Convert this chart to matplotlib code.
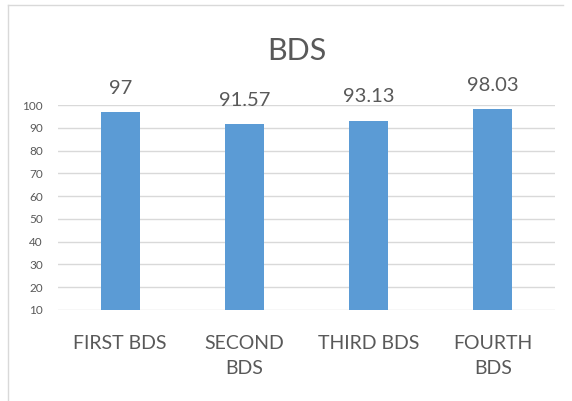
import matplotlib.pyplot as plt
from matplotlib.lines import Line2D
import numpy as np

# ===== Data =====
categories = ["FIRST BDS", "SECOND\nBDS", "THIRD BDS", "FOURTH\nBDS"]
values = [97, 91.57, 93.13, 98.03]
value_labels = ["97", "91.57", "93.13", "98.03"]
y_ticks = list(range(10, 101, 10))

# ===== Style =====
BAR_COLOR = "#5B9BD5"
TEXT_COLOR = "#595959"
GRID_COLOR = "#D9D9D9"
FONT = ["Lato", "DejaVu Sans"]

plt.rcParams["font.family"] = FONT

fig = plt.figure(figsize=(5.72, 4.01), dpi=100)
ax = fig.add_axes([58 / 572, 1 - 310 / 401, (555 - 58) / 572, (310 - 105) / 401])

x = np.arange(len(categories))
bars = ax.bar(x, np.array(values) - 10, bottom=10, width=0.315, color=BAR_COLOR, zorder=3)

for rect, lab in zip(bars, value_labels):
    ax.annotate(lab, (rect.get_x() + rect.get_width() / 2, rect.get_y() + rect.get_height()),
                xytext=(0, 11), textcoords="offset points", ha="center", va="bottom",
                fontsize=14.5, color=TEXT_COLOR)

ax.set_xlim(-0.5, len(categories) - 0.5)
ax.set_ylim(10, 100)
ax.set_yticks(y_ticks)
ax.set_xticks(x)
ax.set_xticklabels(categories, fontsize=14, color=TEXT_COLOR, linespacing=1.6)
ax.tick_params(axis="y", labelsize=8.5, colors=TEXT_COLOR, length=0, pad=11)
ax.tick_params(axis="x", length=0, pad=18)
ax.grid(axis="y", color=GRID_COLOR, linewidth=1, zorder=0)
for s in ax.spines.values():
    s.set_visible(False)

fig.text(297 / 572, 1 - 51 / 401, "BDS", ha="center", va="center", fontsize=22, color=TEXT_COLOR)

# chart border (top and left visible)
fig.add_artist(Line2D([8 / 572, 563 / 572], [1 - 5 / 401, 1 - 5 / 401], transform=fig.transFigure,
                      color="#D9D9D9", linewidth=1))
fig.add_artist(Line2D([8 / 572, 8 / 572], [0, 1 - 5 / 401], transform=fig.transFigure,
                      color="#D9D9D9", linewidth=1))

fig.savefig("out.png", dpi=100)
